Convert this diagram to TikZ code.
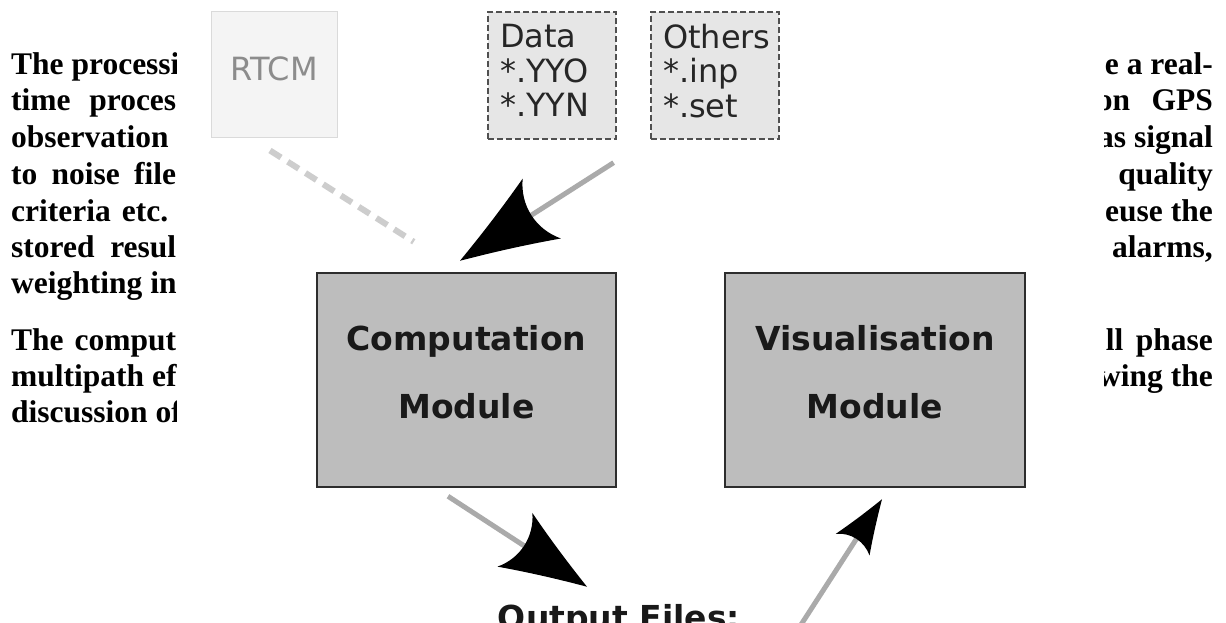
\documentclass[tikz,border=0pt]{standalone}
\usepackage{fontspec}
\setmainfont{Liberation Serif}
\newfontfamily\djsans{DejaVu Sans}
\usetikzlibrary{arrows.meta}
\definecolor{modfill}{RGB}{189,189,189}
\definecolor{modedge}{RGB}{45,45,45}
\definecolor{filefill}{RGB}{230,230,230}
\definecolor{fileedge}{RGB}{80,80,80}
\definecolor{rtcmfill}{RGB}{244,244,244}
\definecolor{rtcmedge}{RGB}{218,218,218}
\definecolor{rtcmtext}{RGB}{140,140,140}
\definecolor{shaftgray}{RGB}{170,170,170}
\definecolor{dashgray}{RGB}{205,205,205}
\pgfdeclarearrow{
  name=InkHead,
  parameters={\the\pgfarrowlength,\the\pgfarrowwidth},
  setup code={
    \pgfarrowssettipend{\pgfarrowlength}
    \pgfarrowssetbackend{0pt}
    \pgfarrowssetlineend{.15\pgfarrowlength}
    \pgfarrowssavethe\pgfarrowlength
    \pgfarrowssavethe\pgfarrowwidth
  },
  drawing code={
    \pgfpathmoveto{\pgfqpoint{\pgfarrowlength}{0pt}}
    \pgfpathcurveto{\pgfqpoint{.55\pgfarrowlength}{.2\pgfarrowwidth}}{\pgfqpoint{.25\pgfarrowlength}{.36\pgfarrowwidth}}{\pgfqpoint{0pt}{.5\pgfarrowwidth}}
    \pgfpathcurveto{\pgfqpoint{.17\pgfarrowlength}{.2\pgfarrowwidth}}{\pgfqpoint{.17\pgfarrowlength}{-.2\pgfarrowwidth}}{\pgfqpoint{0pt}{-.5\pgfarrowwidth}}
    \pgfpathcurveto{\pgfqpoint{.25\pgfarrowlength}{-.36\pgfarrowwidth}}{\pgfqpoint{.55\pgfarrowlength}{-.2\pgfarrowwidth}}{\pgfqpoint{\pgfarrowlength}{0pt}}
    \pgfpathclose
    \pgfusepathqfill
  },
  defaults={length=10pt, width=7pt}
}
\begin{document}
\begin{tikzpicture}[x=1pt,y=-1pt,
  bodytext/.style={inner sep=0pt, font=\bfseries\fontsize{31.5}{36}\selectfont},
  leftline/.style={bodytext, anchor=base west},
  rightline/.style={bodytext, anchor=base east},
  module/.style={draw=modedge, line width=2.5pt, fill=modfill, minimum height=214pt,
    inner sep=0pt, align=center, text=black!90,
    font=\djsans\bfseries\fontsize{33}{68}\selectfont},
  filebox/.style={draw=fileedge, line width=1.3pt, dash pattern=on 6pt off 3pt, fill=filefill,
    minimum width=128pt, minimum height=127pt, inner xsep=12pt, inner ysep=0pt,
    text width=104pt, align=left, text=black!85,
    font=\djsans\fontsize{32}{34.5}\selectfont},
  rtcmbox/.style={draw=rtcmedge, line width=1pt, fill=rtcmfill, minimum width=126pt,
    minimum height=126pt, inner sep=0pt, text=rtcmtext, font=\djsans\fontsize{32}{34.5}\selectfont},
  shaft/.style={draw=shaftgray, line width=5pt},
  dashconn/.style={draw=dashgray, line width=6pt, dash pattern=on 13pt off 8pt}
]
\clip (0,0) rectangle (1226,623);
\fill[white] (0,0) rectangle (1226,623);

% background page text, left part
\begin{scope}
\clip (0,0) rectangle (176,623);
\node[leftline] (l1) at (11,75) {The processi};
\node[leftline] (l2) at (11,111) {\makebox[165pt][s]{time proces}};
\node[leftline] (l3) at (11,147) {observation};
\node[leftline] (l4) at (11,184) {\makebox[165pt][s]{to noise file}};
\node[leftline] (l5) at (11,221) {\makebox[157pt][s]{criteria etc.}};
\node[leftline] (l6) at (11,257) {\makebox[165pt][s]{stored resul}};
\node[leftline] (l7) at (11,293) {weighting in};
\node[leftline] (l8) at (11,350) {\makebox[165pt][s]{The comput}};
\node[leftline] (l9) at (11,386) {multipath ef};
\node[leftline] (l10) at (11,422) {discussion of};
\end{scope}

% background page text, right part
\begin{scope}
\clip (1104,0) rectangle (1226,623);
\node[rightline] (r1) at (1213,75) {e a real-};
\node[rightline] (r2) at (1213,111) {\makebox[116pt][s]{on GPS}};
\node[rightline] (r3) at (1213,147) {as signal};
\node[rightline] (r4) at (1213,184) {quality};
\node[rightline] (r5) at (1213,221) {euse the};
\node[rightline] (r6) at (1213,257) {alarms,};
\node[rightline] (r7) at (1213,350) {\makebox[107pt][s]{ll phase}};
\node[rightline] (r8) at (1213,386) {wing the};
\end{scope}

% diagram
\node[rtcmbox] (rtcm) at (274,75) {RTCM\rule[-13.5pt]{0pt}{0pt}};
\node[filebox] (data) at (552,75.5) {Data\\{*}.YYO\\{*}.YYN\rule[-9.5pt]{0pt}{0pt}};
\node[filebox] (others) at (715,75.5) {Others\\{*}.inp\\{*}.set\rule[-10pt]{0pt}{0pt}};

\node[module, minimum width=299pt] (comp) at (466.5,380) {Computation\\Module\rule[-17pt]{0pt}{0pt}};
\node[module, minimum width=300pt] (vis) at (875,380) {Visualisation\\Module\rule[-17pt]{0pt}{0pt}};

\node[inner sep=0pt, anchor=base, text=black!90, font=\djsans\bfseries\fontsize{33}{40}\selectfont]
  (out) at (619,629) {Output Files:};

\draw[dashconn] ([xshift=-4pt,yshift=-12pt]rtcm.south) -- ([xshift=98pt,yshift=30pt]comp.north west);
\draw[shaft, -{InkHead[length=97pt,width=71pt,black]}]
  ([xshift=-3pt,yshift=-23pt]data.south east) -- ([xshift=-6.5pt,yshift=11pt]comp.north);
\draw[shaft, -{InkHead[length=86pt,width=64pt,black]}]
  ([xshift=-18.5pt,yshift=-8pt]comp.south) -- ([xshift=-32pt,yshift=17pt]out.north);
\draw[shaft, -{InkHead[length=54pt,width=40pt,black]}]
  ([xshift=60pt,yshift=-6pt]out.east) -- ([xshift=7pt,yshift=-11pt]vis.south);
\end{tikzpicture}
\end{document}
